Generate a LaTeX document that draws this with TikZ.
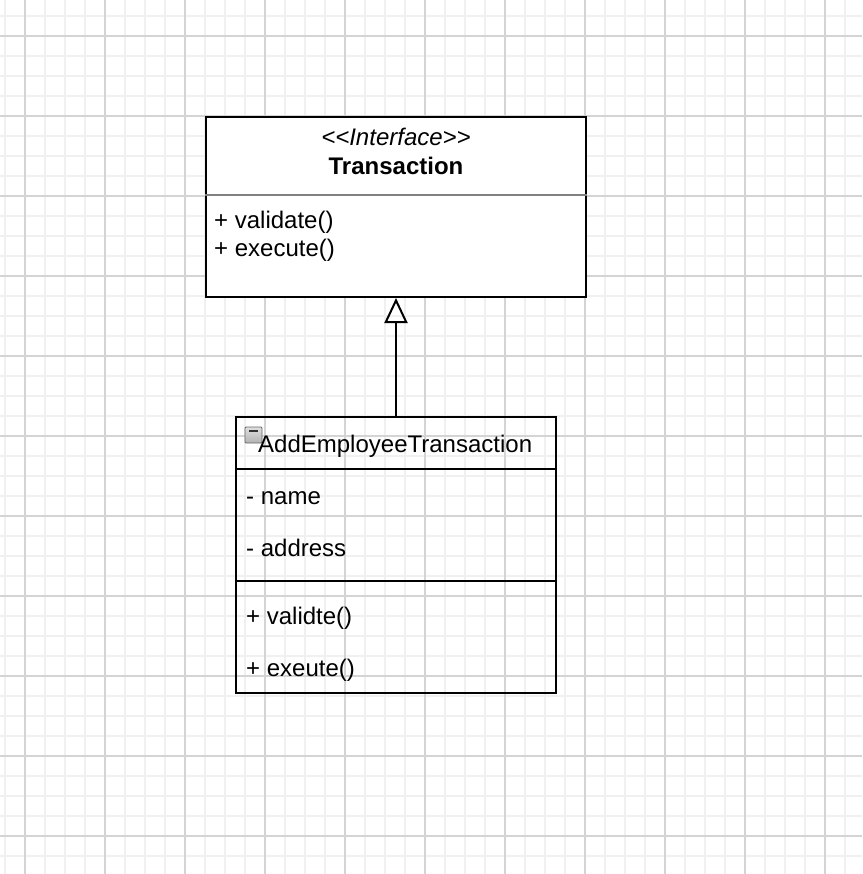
\documentclass[tikz,border=0pt]{standalone}
\usepackage{fontspec}
\setmainfont{Liberation Sans}
\usetikzlibrary{arrows.meta}
\definecolor{minorgrid}{HTML}{F0F0F0}
\definecolor{majorgrid}{HTML}{D4D4D4}
\begin{document}
\begin{tikzpicture}[x=1pt,y=-1pt,
  txt/.style={anchor=base west,inner sep=0pt,font=\fontsize{24}{26}\selectfont},
  classbox/.style={draw=black,line width=2pt,minimum width=#1,inner sep=0pt},
]
\useasboundingbox (0,0) rectangle (862,874);
\fill[white] (0,0) rectangle (862,874);
% grid
\foreach \x in {5,25,...,862} \draw[minorgrid,line width=2pt] (\x,0) -- (\x,874);
\foreach \y in {16,36,...,874} \draw[minorgrid,line width=2pt] (0,\y) -- (862,\y);
\foreach \x in {25,105,...,862} \draw[majorgrid,line width=1.4pt] (\x,0) -- (\x,874);
\foreach \y in {36,116,...,874} \draw[majorgrid,line width=1.4pt] (0,\y) -- (862,\y);

% Interface box
\node[classbox=380pt,minimum height=180pt,fill=white] (iface) at (396,207) {};
\draw[gray,line width=2pt] (iface.west |- 0,195) coordinate (s1) -- (iface.east |- 0,195) coordinate (s2);
\node[anchor=base,inner sep=0pt,font=\fontsize{24}{26}\selectfont\itshape] (stereo) at (396,146) {{<}{<}Interface{>}{>}};
\node[anchor=base,inner sep=0pt,font=\fontsize{24}{26}\selectfont\bfseries] (iname) at (396,175) {Transaction};
\node[txt] (m1) at (214,229) {+ validate()};
\node[txt] (m2) at (214,257) {+ execute()};

% Subclass box
\node[classbox=320pt,minimum height=276pt] (sub) at (396,555) {};
\draw[black,line width=2pt] (sub.west |- 0,469) coordinate (h1) -- (sub.east |- 0,469) coordinate (h2);
\draw[black,line width=2pt] (sub.west |- 0,581) coordinate (d1) -- (sub.east |- 0,581) coordinate (d2);
% collapse icon
\shade[top color=gray!25,bottom color=gray!60,draw=gray!80!black,line width=0.8pt,rounded corners=1pt] (245,427) rectangle (262,443);
\draw[black!80,line width=1.6pt] (249,431) -- (258,431);
\node[txt] (sname) at (258,452) {AddEmployeeTransaction};
\node[txt] (a1) at (246,504) {- name};
\node[txt] (a2) at (246,556) {- address};
\node[txt] (o1) at (246,624) {+ validte()};
\node[txt] (o2) at (246,676) {+ exeute()};

% generalization
\draw[line width=2pt,-{Triangle[open,length=25pt,width=23pt,line width=2pt]}] (sub.north) -- (iface.south);
\end{tikzpicture}
\end{document}
